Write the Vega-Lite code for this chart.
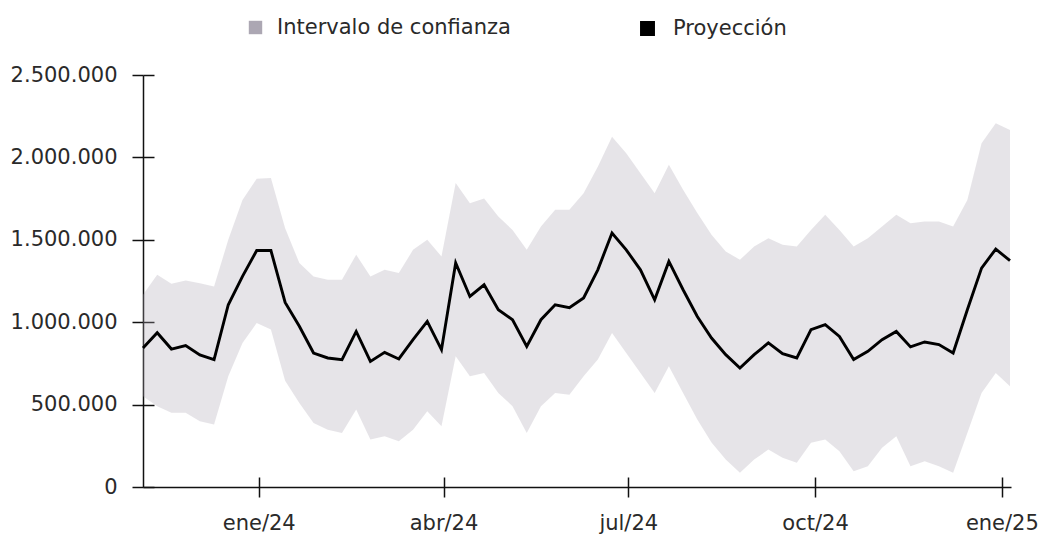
{
  "$schema": "https://vega.github.io/schema/vega-lite/v6.json",
  "width": 868,
  "height": 412,
  "autosize": {"type": "none"},
  "padding": {"left": 143, "top": 75, "right": 34, "bottom": 51},
  "config": {
    "locale": {"number": {"decimal": ",", "thousands": ".", "grouping": [3], "currency": ["", " €"]}},
    "view": {"stroke": null},
    "font": "DejaVu Sans",
    "axis": {"grid": false, "domainColor": "#111111", "tickColor": "#111111", "domainWidth": 1.5, "tickWidth": 1.5, "labelFont": "DejaVu Sans", "labelFontSize": 21, "labelColor": "#2a2a2a", "title": null},
    "legend": {"padding": 0, "labelFont": "DejaVu Sans", "labelFontSize": 21, "labelColor": "#2a2a2a", "labelLimit": 500}
  },
  "data": {"values": [
    {"fecha": "2023-11-05", "proy": 844000, "lo": 550000, "hi": 1167000},
    {"fecha": "2023-11-12", "proy": 936000, "lo": 490000, "hi": 1288000},
    {"fecha": "2023-11-19", "proy": 837000, "lo": 450000, "hi": 1233000},
    {"fecha": "2023-11-26", "proy": 858000, "lo": 450000, "hi": 1253000},
    {"fecha": "2023-12-03", "proy": 801000, "lo": 399000, "hi": 1237000},
    {"fecha": "2023-12-10", "proy": 773000, "lo": 379000, "hi": 1217000},
    {"fecha": "2023-12-17", "proy": 1106000, "lo": 672000, "hi": 1500000},
    {"fecha": "2023-12-24", "proy": 1278000, "lo": 874000, "hi": 1742000},
    {"fecha": "2023-12-31", "proy": 1435000, "lo": 995000, "hi": 1870000},
    {"fecha": "2024-01-07", "proy": 1435000, "lo": 955000, "hi": 1875000},
    {"fecha": "2024-01-14", "proy": 1120000, "lo": 645000, "hi": 1570000},
    {"fecha": "2024-01-21", "proy": 975000, "lo": 510000, "hi": 1359000},
    {"fecha": "2024-01-28", "proy": 813000, "lo": 389000, "hi": 1278000},
    {"fecha": "2024-02-04", "proy": 783000, "lo": 348000, "hi": 1258000},
    {"fecha": "2024-02-11", "proy": 773000, "lo": 328000, "hi": 1258000},
    {"fecha": "2024-02-18", "proy": 944000, "lo": 470000, "hi": 1409000},
    {"fecha": "2024-02-25", "proy": 762000, "lo": 288000, "hi": 1278000},
    {"fecha": "2024-03-03", "proy": 817000, "lo": 308000, "hi": 1318000},
    {"fecha": "2024-03-10", "proy": 777000, "lo": 278000, "hi": 1298000},
    {"fecha": "2024-03-17", "proy": 894000, "lo": 348000, "hi": 1439000},
    {"fecha": "2024-03-24", "proy": 1005000, "lo": 460000, "hi": 1500000},
    {"fecha": "2024-03-31", "proy": 833000, "lo": 369000, "hi": 1399000},
    {"fecha": "2024-04-07", "proy": 1359000, "lo": 793000, "hi": 1844000},
    {"fecha": "2024-04-14", "proy": 1156000, "lo": 672000, "hi": 1722000},
    {"fecha": "2024-04-21", "proy": 1227000, "lo": 692000, "hi": 1750000},
    {"fecha": "2024-04-28", "proy": 1076000, "lo": 571000, "hi": 1641000},
    {"fecha": "2024-05-05", "proy": 1015000, "lo": 490000, "hi": 1560000},
    {"fecha": "2024-05-12", "proy": 853000, "lo": 328000, "hi": 1439000},
    {"fecha": "2024-05-19", "proy": 1015000, "lo": 490000, "hi": 1580000},
    {"fecha": "2024-05-26", "proy": 1106000, "lo": 571000, "hi": 1682000},
    {"fecha": "2024-06-02", "proy": 1088000, "lo": 560000, "hi": 1682000},
    {"fecha": "2024-06-09", "proy": 1147000, "lo": 672000, "hi": 1783000},
    {"fecha": "2024-06-16", "proy": 1318000, "lo": 773000, "hi": 1944000},
    {"fecha": "2024-06-23", "proy": 1541000, "lo": 934000, "hi": 2126000},
    {"fecha": "2024-06-30", "proy": 1439000, "lo": 813000, "hi": 2025000},
    {"fecha": "2024-07-07", "proy": 1318000, "lo": 692000, "hi": 1904000},
    {"fecha": "2024-07-14", "proy": 1136000, "lo": 571000, "hi": 1783000},
    {"fecha": "2024-07-21", "proy": 1369000, "lo": 732000, "hi": 1955000},
    {"fecha": "2024-07-28", "proy": 1197000, "lo": 571000, "hi": 1803000},
    {"fecha": "2024-08-04", "proy": 1035000, "lo": 409000, "hi": 1662000},
    {"fecha": "2024-08-11", "proy": 904000, "lo": 270000, "hi": 1530000},
    {"fecha": "2024-08-18", "proy": 803000, "lo": 167000, "hi": 1429000},
    {"fecha": "2024-08-25", "proy": 722000, "lo": 86000, "hi": 1379000},
    {"fecha": "2024-09-01", "proy": 803000, "lo": 167000, "hi": 1459000},
    {"fecha": "2024-09-08", "proy": 874000, "lo": 227000, "hi": 1510000},
    {"fecha": "2024-09-15", "proy": 809000, "lo": 177000, "hi": 1470000},
    {"fecha": "2024-09-22", "proy": 783000, "lo": 147000, "hi": 1459000},
    {"fecha": "2024-09-29", "proy": 955000, "lo": 268000, "hi": 1560000},
    {"fecha": "2024-10-06", "proy": 985000, "lo": 288000, "hi": 1652000},
    {"fecha": "2024-10-13", "proy": 914000, "lo": 217000, "hi": 1560000},
    {"fecha": "2024-10-20", "proy": 773000, "lo": 96000, "hi": 1459000},
    {"fecha": "2024-10-27", "proy": 823000, "lo": 126000, "hi": 1510000},
    {"fecha": "2024-11-03", "proy": 894000, "lo": 238000, "hi": 1580000},
    {"fecha": "2024-11-10", "proy": 944000, "lo": 308000, "hi": 1652000},
    {"fecha": "2024-11-17", "proy": 850000, "lo": 126000, "hi": 1601000},
    {"fecha": "2024-11-24", "proy": 880000, "lo": 156000, "hi": 1611000},
    {"fecha": "2024-12-01", "proy": 864000, "lo": 126000, "hi": 1611000},
    {"fecha": "2024-12-08", "proy": 813000, "lo": 86000, "hi": 1580000},
    {"fecha": "2024-12-15", "proy": 1076000, "lo": 328000, "hi": 1742000},
    {"fecha": "2024-12-22", "proy": 1328000, "lo": 571000, "hi": 2086000},
    {"fecha": "2024-12-29", "proy": 1444000, "lo": 692000, "hi": 2207000},
    {"fecha": "2025-01-05", "proy": 1373000, "lo": 611000, "hi": 2167000}
  ]},
  "layer": [
    {
      "mark": {"type": "area", "interpolate": "linear", "fillOpacity": 0.3},
      "encoding": {
        "x": {
          "field": "fecha", "type": "temporal",
          "scale": {"type": "utc", "domain": [{"year": 2023, "month": 11, "date": 5, "utc": true}, {"year": 2025, "month": 1, "date": 5, "hours": 12, "utc": true}]},
          "axis": {
            "orient": "bottom", "tickSize": 10, "labelPadding": 15, "labelBaseline": "top",
            "values": [
              {"year": 2024, "month": 1, "date": 1, "utc": true},
              {"year": 2024, "month": 4, "date": 1, "utc": true},
              {"year": 2024, "month": 7, "date": 1, "utc": true},
              {"year": 2024, "month": 10, "date": 1, "utc": true},
              {"year": 2025, "month": 1, "date": 1, "utc": true}
            ],
            "labelExpr": "['ene','feb','mar','abr','may','jun','jul','ago','sep','oct','nov','dic'][utcmonth(datum.value)] + '/' + utcFormat(datum.value, '%y')"
          }
        },
        "y": {
          "field": "lo", "type": "quantitative",
          "scale": {"domain": [0, 2500000], "nice": false, "zero": true},
          "axis": {"orient": "left", "values": [0, 500000, 1000000, 1500000, 2000000, 2500000], "format": ",d", "tickSize": 11, "labelPadding": 15}
        },
        "y2": {"field": "hi"},
        "fill": {
          "datum": "Intervalo de confianza", "type": "nominal",
          "scale": {"range": ["#aca7b3"]},
          "legend": {
            "title": null, "orient": "none", "legendX": 102, "legendY": -58,
            "symbolType": "square", "symbolSize": 180, "labelOffset": 11, "symbolOpacity": 1
          }
        }
      }
    },
    {
      "mark": {"type": "line", "strokeWidth": 2.9, "strokeJoin": "miter"},
      "encoding": {
        "x": {
          "field": "fecha", "type": "temporal",
          "axis": {
            "orient": "top", "offset": -412, "domain": false, "labels": false, "tickSize": 10,
            "values": [
              {"year": 2024, "month": 1, "date": 1, "utc": true},
              {"year": 2024, "month": 4, "date": 1, "utc": true},
              {"year": 2024, "month": 7, "date": 1, "utc": true},
              {"year": 2024, "month": 10, "date": 1, "utc": true},
              {"year": 2025, "month": 1, "date": 1, "utc": true}
            ]
          }
        },
        "y": {
          "field": "proy", "type": "quantitative",
          "axis": {"orient": "right", "offset": -868, "domain": false, "labels": false, "tickSize": 11, "values": [0, 500000, 1000000, 1500000, 2000000, 2500000]}
        },
        "stroke": {
          "datum": "Proyección", "type": "nominal",
          "scale": {"range": ["#000000"]},
          "legend": {
            "title": null, "orient": "none", "legendX": 494, "legendY": -57,
            "symbolType": "square", "symbolSize": 180, "labelOffset": 15,
            "encode": {"symbols": {"update": {"fill": {"value": "#000000"}, "stroke": {"value": "transparent"}, "opacity": {"value": 1}}}}
          }
        }
      }
    }
  ],
  "resolve": {"axis": {"x": "independent", "y": "independent"}, "scale": {"x": "shared", "y": "shared"}}
}
